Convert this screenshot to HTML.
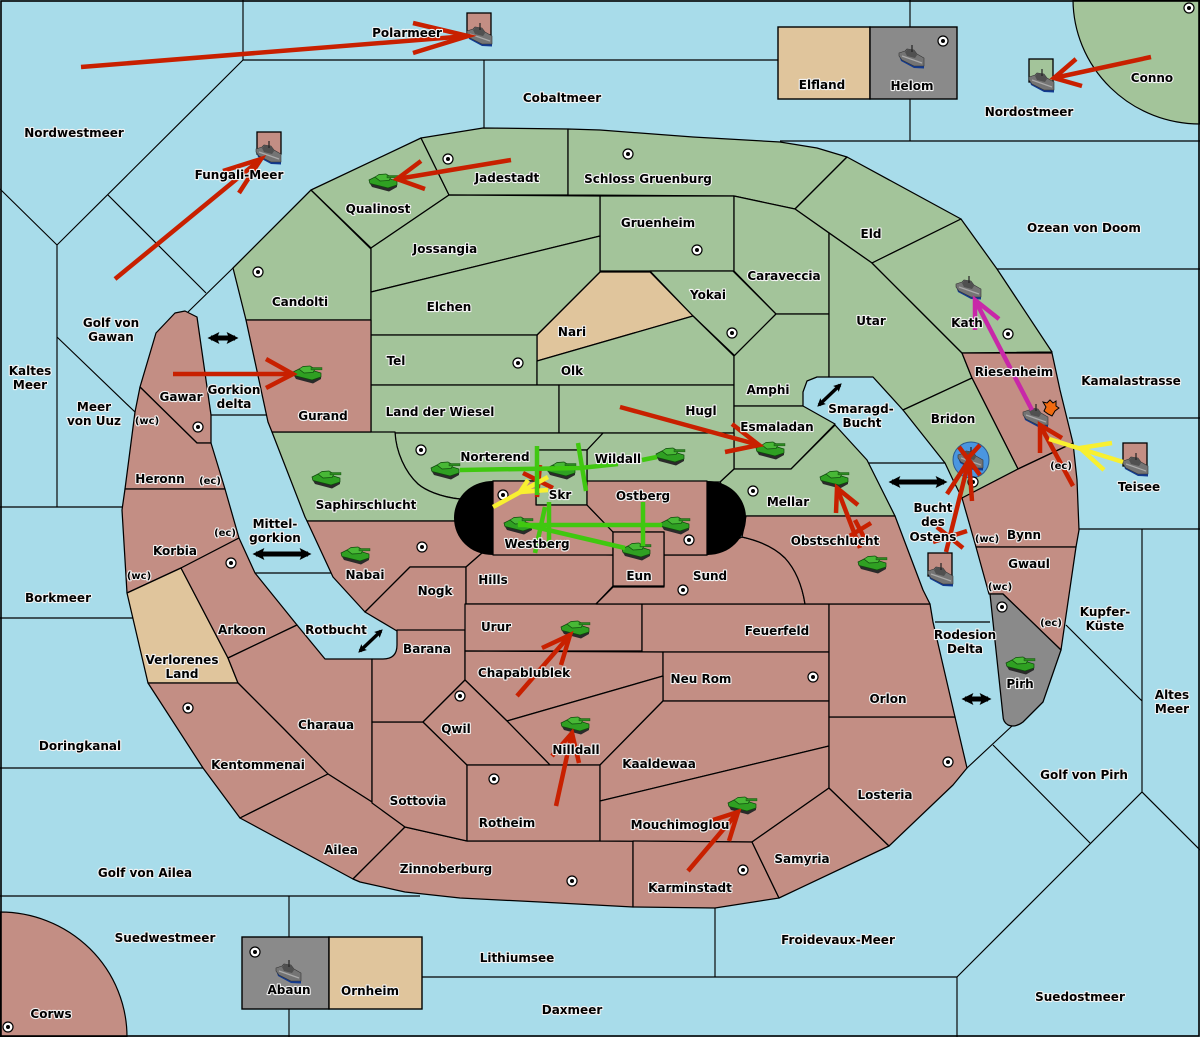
<!DOCTYPE html>
<html><head><meta charset="utf-8"><style>
html,body{margin:0;padding:0;background:#a8dcea}
svg{display:block}
.l polygon,.l path{stroke:#000;stroke-width:1.25;stroke-linejoin:round}
.g{fill:#a3c49a}.r{fill:#c38e84}.t{fill:#e0c59c}.y{fill:#8a8a8a}
.s{stroke:#000;stroke-width:1.15;fill:none}
.a line,.a polyline{stroke-width:4.5;fill:none}
text{font:bold 12px "DejaVu Sans",sans-serif;text-anchor:middle;fill:#000;stroke:#f2f2f2;stroke-width:2.2;paint-order:stroke;stroke-linejoin:round}
</style></head><body>
<svg xmlns="http://www.w3.org/2000/svg" width="1200" height="1037" viewBox="0 0 1200 1037">
<defs>
<symbol id="tank" viewBox="0 0 29 17" width="29" height="17" overflow="visible">
<polygon points="0,8 19,13 28,10 28,13 20,17.5 3,13" fill="#2a2a2a"/>
<polygon points="0,6 6,3 15,3 28,7 28,11 19,14 1,9.5" fill="#2fa022" stroke="#0f4a0c" stroke-width=".7"/>
<polygon points="6,3 10,0.5 17,0 22,3 20,6.5 11,7" fill="#48b836" stroke="#0f4a0c" stroke-width=".7"/>
<rect x="18" y="1.5" width="11" height="2.4" fill="#2c8a20" stroke="#0f4a0c" stroke-width=".4"/>
</symbol>
<symbol id="ship" viewBox="0 0 25 21" width="25" height="21" overflow="visible">
<polygon points="0,8 2,14 15,21 25,21.5 25,15 12,11" fill="#123a90"/>
<polygon points="0,6 6,4 8,2 15,3 18,7 25,11 25,19 15,19 3,13 0,9" fill="#747474" stroke="#333" stroke-width=".6"/>
<polygon points="6,5 9,2 15,3 18,8 16,11 8,9" fill="#505050"/>
<line x1="13" y1="-2" x2="13" y2="5" stroke="#222" stroke-width="1.2"/>
<line x1="3" y1="9" x2="23" y2="16" stroke="#aaa" stroke-width="1.2"/>
</symbol>
<symbol id="c" viewBox="-6 -6 12 12" width="12" height="12" overflow="visible">
<circle r="5" fill="#fff" stroke="#000" stroke-width="1.2"/><circle r="2" fill="#000"/>
</symbol>
<marker id="h" viewBox="0 0 10 10" refX="7" refY="5" markerWidth="2.4" markerHeight="3.2" orient="auto-start-reverse"><path d="M0,0L10,5L0,10L2,5Z" fill="#000"/></marker>
</defs>
<rect width="1200" height="1037" fill="#a8dcea"/>

<!-- sea lines -->
<g class="s">
<path d="M243,0V60H778M484,60V128M243,60L57,245L0,189M57,245V507M108,195L206,293M233,268L188,312M57,337L135,412M0,507H122M0,618H133M0,768H203M0,896H420M289,896V937M289,1009V1037M422,977H957M715,908V977M957,977V1037M957,977L1142,792L1200,850M1142,792V529M1090,843L993,745M1012,726L967,768M1142,701L1066,625M1078,529H1200M1069,418H1200M997,269H1200M780,141H1200M910,0V27M910,99V141M935,622H990M868,463H945M211,415H266M255,573H331"/>
</g>
<path d="M1073,0A127,125 0 0 0 1200,124V0Z" class="g" stroke="#000" stroke-width="1.2"/>
<path d="M0,912A127,125 0 0 1 127,1037H0Z" class="r" stroke="#000" stroke-width="1.2"/>

<g class="l">
<!-- greens -->
<polygon class="g" points="233,268 311,190 371,249 371,320 246,320"/>
<polygon class="g" points="311,190 421,138 449,195 371,248"/>
<polygon class="g" points="421,138 483,128 568,129 568,195 449,195"/>
<polygon class="g" points="568,129 600,130 693,137 780,142 817,148 847,157 795,209 734,196 568,195"/>
<polygon class="g" points="847,157 961,219 872,263 795,209"/>
<polygon class="g" points="600,196 734,196 734,271 600,271"/>
<polygon class="g" points="734,196 795,209 829,233 829,314 776,314 734,271"/>
<polygon class="g" points="650,271 733,271 776,314 735,356 693,316"/>
<polygon class="t" points="600,272 650,272 693,316 537,361 537,335"/>
<polygon class="g" points="371,248 449,195 600,196 600,236 371,292"/>
<polygon class="g" points="371,292 600,236 600,272 537,335 371,335"/>
<polygon class="g" points="371,335 537,335 537,385 371,385"/>
<polygon class="g" points="537,361 693,316 734,356 734,385 537,385"/>
<polygon class="g" points="371,385 559,385 559,433 371,433"/>
<polygon class="g" points="559,385 734,385 734,433 559,433"/>
<polygon class="g" points="734,356 776,314 829,314 829,377 817,377 807,381 803,392 803,406 734,406"/>
<polygon class="g" points="734,406 803,406 835,424 791,469 734,469"/>
<polygon class="g" points="829,233 872,263 917,308 962,353 972,378 903,410 873,377 829,377"/>
<polygon class="g" points="872,263 961,219 997,269 1052,352 962,353 917,308"/>
<polygon class="r" points="962,353 1052,353 1060,390 1073,443 1018,469 972,378"/>
<polygon class="g" points="972,378 1018,469 962,498 953,480 945,463 903,410"/>
<polygon class="g" points="734,469 791,469 835,425 867,460 877,480 895,516 740,516 720,482"/>
<polygon class="g" points="603,433 734,433 734,469 720,482 587,481 587,450"/>
<path class="g" d="M395,433H603L587,450H536V481H493L460,499C440,497 425,490 418,484C405,472 396,452 395,433Z"/>
<path class="g" d="M272,432H395C396,452 405,472 418,484C425,490 440,497 460,499L470,521H307L305,517Z"/>
<polygon class="g" points="536,450 587,450 587,505 536,505"/>
<!-- reds -->
<polygon class="r" points="246,320 371,320 371,432 272,432 268,422"/>
<polygon class="r" points="140,387 156,333 175,313 185,311 197,317 211,415 211,443 197,443"/>
<polygon class="r" points="140,387 197,443 211,443 225,489 125,489 135,412"/>
<polygon class="r" points="125,489 225,489 239,538 181,568 127,593 122,510"/>
<polygon class="t" points="127,593 181,568 228,658 238,683 148,683"/>
<polygon class="r" points="181,568 239,538 255,573 297,625 228,658"/>
<polygon class="r" points="228,658 297,625 325,659 372,659 372,802 328,774 283,728 238,683"/>
<polygon class="r" points="148,683 238,683 283,728 328,774 240,818 203,768"/>
<polygon class="r" points="240,818 328,774 372,802 405,827 353,879"/>
<polygon class="r" points="405,827 467,841 633,841 633,907 540,902 460,898 405,892 360,882 353,879"/>
<polygon class="r" points="372,722 423,722 467,765 467,841 405,827 372,803"/>
<polygon class="r" points="307,521 470,521 482,553 466,567 410,567 365,612 333,577"/>
<polygon class="r" points="410,567 466,567 466,630 397,631 365,612"/>
<path class="r" d="M397,630H465V680L423,722H372V659H383Q397,659 397,645Z"/>
<polygon class="r" points="466,567 482,553 613,555 613,586 596,604 466,604"/>
<polygon class="r" points="465,604 642,604 642,651 465,651"/>
<polygon class="r" points="642,604 829,604 829,652 642,652"/>
<polygon class="r" points="465,651 663,652 663,676 507,721 465,680"/>
<polygon class="r" points="663,652 829,652 829,701 663,701"/>
<polygon class="r" points="507,721 663,676 663,701 600,765 550,765"/>
<polygon class="r" points="465,680 507,721 550,765 467,765 423,722"/>
<polygon class="r" points="467,765 600,765 600,841 467,841"/>
<polygon class="r" points="663,701 829,701 829,746 600,801 600,765"/>
<polygon class="r" points="600,801 829,746 829,788 752,842 600,841"/>
<polygon class="r" points="633,841 752,842 779,898 715,908 633,907"/>
<polygon class="r" points="829,788 889,846 779,898 752,842"/>
<polygon class="r" points="829,717 955,717 967,768 953,785 889,846 829,788"/>
<polygon class="r" points="829,604 930,604 933,622 955,717 829,717"/>
<path class="r" d="M664,555H707L742,537C760,541 775,548 785,558C796,570 802,585 805,604H596L613,587H664Z"/>
<path class="r" d="M746,516H895L923,590L930,604H805C802,585 796,570 785,558C775,548 760,541 742,537Z"/>
<polygon class="r" points="493,481 536,481 536,505 587,505 613,532 613,555 493,555"/>
<polygon class="r" points="587,481 707,481 707,555 664,555 664,532 613,532 587,505"/>
<polygon class="r" points="613,532 664,532 664,586 613,586"/>
<polygon class="r" points="962,498 1018,469 1073,443 1077,480 1079,530 1076,547 976,547"/>
<polygon class="r" points="976,547 1076,547 1061,650 1003,594 989,594"/>
<path class="y" d="M990,594H1003L1061,650L1043,702L1023,722Q1015,728 1008,725Q1003,722 1003,716Z"/>
<!-- boxes -->
<rect x="778" y="27" width="92" height="72" class="t" stroke="#000" stroke-width="1.4"/>
<rect x="870" y="27" width="87" height="72" class="y" stroke="#000" stroke-width="1.4"/>
<rect x="242" y="937" width="87" height="72" class="y" stroke="#000" stroke-width="1.4"/>
<rect x="329" y="937" width="93" height="72" class="t" stroke="#000" stroke-width="1.4"/>
</g>
<path d="M493,481V555C470,555 454,538 454,518C454,498 470,481 493,481Z" fill="#000"/>
<path d="M707,481V555C730,555 746,538 746,518C746,498 730,481 707,481Z" fill="#000"/>
<rect x="1" y="1" width="1198" height="1035" fill="none" stroke="#000" stroke-width="1.6"/>

<!-- unit boxes -->
<g stroke="#000" stroke-width="1.3">
<rect x="467" y="13" width="24" height="22" class="r"/>
<rect x="257" y="132" width="24" height="22" class="r"/>
<rect x="1029" y="59" width="24" height="23" class="g"/>
<rect x="1123" y="443" width="24" height="23" class="r"/>
<rect x="928" y="553" width="24" height="23" class="r"/>
</g>
<circle cx="971" cy="460" r="18" fill="#4a96e0" stroke="#2a5a90"/>

<!-- centres -->
<g>
<use href="#c" x="252" y="266"/><use href="#c" x="442" y="153"/><use href="#c" x="622" y="148"/><use href="#c" x="691" y="244"/><use href="#c" x="726" y="327"/><use href="#c" x="512" y="357"/><use href="#c" x="1002" y="328"/><use href="#c" x="415" y="444"/><use href="#c" x="497" y="489"/><use href="#c" x="747" y="485"/><use href="#c" x="683" y="534"/><use href="#c" x="416" y="541"/><use href="#c" x="677" y="584"/><use href="#c" x="192" y="421"/><use href="#c" x="225" y="557"/><use href="#c" x="182" y="702"/><use href="#c" x="454" y="690"/><use href="#c" x="488" y="773"/><use href="#c" x="566" y="875"/><use href="#c" x="807" y="671"/><use href="#c" x="942" y="756"/><use href="#c" x="737" y="864"/><use href="#c" x="967" y="476"/><use href="#c" x="996" y="601"/><use href="#c" x="937" y="35"/><use href="#c" x="1183" y="2"/><use href="#c" x="249" y="946"/><use href="#c" x="2" y="1021"/>
</g>

<!-- tanks -->
<g>
<use href="#tank" x="369" y="174"/><use href="#tank" x="293" y="366"/><use href="#tank" x="312" y="471"/><use href="#tank" x="341" y="547"/><use href="#tank" x="431" y="462"/><use href="#tank" x="547" y="462"/><use href="#tank" x="656" y="448"/><use href="#tank" x="756" y="442"/><use href="#tank" x="504" y="517"/><use href="#tank" x="661" y="517"/><use href="#tank" x="622" y="543"/><use href="#tank" x="820" y="471"/><use href="#tank" x="858" y="556"/><use href="#tank" x="561" y="621"/><use href="#tank" x="561" y="717"/><use href="#tank" x="728" y="797"/><use href="#tank" x="1006" y="657"/>
</g>
<!-- ships -->
<g>
<use href="#ship" x="467" y="25"/><use href="#ship" x="256" y="143"/><use href="#ship" x="1029" y="71"/><use href="#ship" x="899" y="47"/><use href="#ship" x="276" y="962"/><use href="#ship" x="956" y="278"/><use href="#ship" x="1023" y="406"/><use href="#ship" x="958" y="449"/><use href="#ship" x="1123" y="455"/><use href="#ship" x="928" y="565"/>
</g>
<polygon points="1050,400 1053,403 1056,401 1056,406 1059,408 1055,411 1052,416 1048,414 1044,411 1046,407 1043,402 1047,403" fill="#f06a10" stroke="#000" stroke-width="1"/>

<!-- red moves -->
<g class="a" stroke="#c82000">
<line x1="81" y1="67" x2="468" y2="36" stroke="#c82000"/><polyline points="413,23 468,36 413,53" stroke="#c82000"/>
<line x1="115" y1="279" x2="261" y2="159" stroke="#c82000"/><polyline points="223,171 261,159 239,193" stroke="#c82000"/>
<line x1="511" y1="160" x2="397" y2="179" stroke="#c82000"/><polyline points="421,161 397,179 425,189" stroke="#c82000"/>
<line x1="173" y1="374" x2="293" y2="374" stroke="#c82000"/><polyline points="266,359 293,374 266,388" stroke="#c82000"/>
<line x1="1151" y1="57" x2="1054" y2="78" stroke="#c82000"/><polyline points="1076,59 1054,78 1082,86" stroke="#c82000"/>
<line x1="620" y1="407" x2="759" y2="445" stroke="#c82000"/><polyline points="732,424 759,445 725,452" stroke="#c82000"/>
<line x1="523" y1="473" x2="553" y2="488" stroke="#c82000"/><line x1="537" y1="497" x2="540" y2="465" stroke="#c82000"/>
<line x1="1073" y1="486" x2="1040" y2="425" stroke="#c82000"/><polyline points="1040,453 1040,425 1062,438" stroke="#c82000"/>
<line x1="946" y1="552" x2="969" y2="460" stroke="#c82000"/><polyline points="947,494 969,460 972,501" stroke="#c82000"/>
<line x1="959" y1="447" x2="980" y2="475" stroke="#c82000"/><line x1="980" y1="445" x2="968" y2="458" stroke="#c82000"/>
<line x1="937" y1="527" x2="963" y2="548" stroke="#c82000"/><line x1="967" y1="531" x2="933" y2="542" stroke="#c82000"/>
<line x1="837" y1="488" x2="860" y2="548" stroke="#c82000"/><polyline points="836,513 837,488 858,505" stroke="#c82000"/>
<line x1="848" y1="537" x2="871" y2="523" stroke="#c82000"/><line x1="855" y1="520" x2="868" y2="545" stroke="#c82000"/>
<line x1="517" y1="696" x2="570" y2="635" stroke="#c82000"/><polyline points="542,648 570,635 561,665" stroke="#c82000"/>
<line x1="556" y1="806" x2="572" y2="733" stroke="#c82000"/><polyline points="552,756 572,733 579,763" stroke="#c82000"/>
<line x1="688" y1="871" x2="738" y2="812" stroke="#c82000"/><polyline points="713,820 738,812 729,841" stroke="#c82000"/>
</g>
<!-- yellow / magenta / green moves -->
<g class="a">
<line x1="493" y1="507" x2="548" y2="477" stroke="#f8f030"/><polyline points="528,480 520,492 548,490" stroke="#f8f030"/>
<line x1="1123" y1="462" x2="1049" y2="439" stroke="#f8f030"/><polyline points="1112,443 1080,448 1104,470" stroke="#f8f030"/>
<line x1="1032" y1="410" x2="975" y2="300" stroke="#c828a8"/><polyline points="999,319 975,300 975,330" stroke="#c828a8"/>
<polyline points="460,470 580,468 618,464" stroke="#40c810"/><line x1="642" y1="460" x2="657" y2="457" stroke="#40c810"/>
<line x1="537" y1="446" x2="537" y2="495" stroke="#40c810"/><line x1="578" y1="443" x2="586" y2="491" stroke="#40c810"/>
<line x1="518" y1="525" x2="662" y2="525" stroke="#40c810"/><line x1="518" y1="523" x2="625" y2="548" stroke="#40c810"/>
<line x1="643" y1="502" x2="643" y2="546" stroke="#40c810"/><line x1="549" y1="502" x2="549" y2="548" stroke="#40c810"/>
<line x1="545" y1="507" x2="535" y2="553" stroke="#40c810"/>
</g>
<!-- black double arrows -->
<g stroke="#000" fill="none">
<line x1="211" y1="338" x2="235" y2="338" stroke-width="5" marker-start="url(#h)" marker-end="url(#h)"/>
<line x1="256" y1="554" x2="308" y2="554" stroke-width="5" marker-start="url(#h)" marker-end="url(#h)"/>
<line x1="892" y1="482" x2="944" y2="482" stroke-width="5" marker-start="url(#h)" marker-end="url(#h)"/>
<line x1="965" y1="699" x2="988" y2="699" stroke-width="5" marker-start="url(#h)" marker-end="url(#h)"/>
<line x1="360" y1="651" x2="381" y2="631" stroke-width="3.4" marker-start="url(#h)" marker-end="url(#h)"/>
<line x1="819" y1="405" x2="840" y2="385" stroke-width="3.4" marker-start="url(#h)" marker-end="url(#h)"/>
</g>

<!-- labels -->
<g>
<text x="407" y="37">Polarmeer</text><text x="822" y="89">Elfland</text><text x="912" y="90">Helom</text><text x="562" y="102">Cobaltmeer</text><text x="1152" y="82">Conno</text><text x="1029" y="116">Nordostmeer</text><text x="74" y="137">Nordwestmeer</text><text x="239" y="179">Fungali-Meer</text><text x="507" y="182">Jadestadt</text><text x="648" y="183">Schloss Gruenburg</text><text x="378" y="213">Qualinost</text><text x="658" y="227">Gruenheim</text><text x="871" y="238">Eld</text><text x="1084" y="232">Ozean von Doom</text><text x="445" y="253">Jossangia</text><text x="784" y="280">Caraveccia</text><text x="708" y="299">Yokai</text><text x="300" y="306">Candolti</text><text x="449" y="311">Elchen</text>
<text x="111" y="327">Golf von</text><text x="111" y="341">Gawan</text><text x="871" y="325">Utar</text><text x="967" y="327">Kath</text><text x="572" y="336">Nari</text><text x="396" y="365">Tel</text><text x="572" y="375">Olk</text><text x="1014" y="376">Riesenheim</text><text x="1131" y="385">Kamalastrasse</text><text x="30" y="375">Kaltes</text><text x="30" y="389">Meer</text><text x="768" y="394">Amphi</text><text x="323" y="420">Gurand</text><text x="181" y="401">Gawar</text><text x="234" y="394">Gorkion</text><text x="234" y="408">delta</text><text x="94" y="411">Meer</text><text x="94" y="425">von Uuz</text><text x="440" y="416">Land der Wiesel</text><text x="701" y="415">Hugl</text><text x="861" y="413">Smaragd-</text><text x="862" y="427">Bucht</text><text x="953" y="423">Bridon</text><text x="147" y="424" style="font-size:10px">(wc)</text><text x="777" y="431">Esmaladan</text>
<text x="495" y="461">Norterend</text><text x="618" y="463">Wildall</text><text x="160" y="483">Heronn</text><text x="210" y="484" style="font-size:10px">(ec)</text><text x="1139" y="491">Teisee</text><text x="1061" y="469" style="font-size:10px">(ec)</text><text x="560" y="499">Skr</text><text x="643" y="500">Ostberg</text><text x="788" y="506">Mellar</text><text x="366" y="509">Saphirschlucht</text><text x="933" y="512">Bucht</text><text x="933" y="526">des</text><text x="933" y="541">Ostens</text><text x="1024" y="539">Bynn</text><text x="987" y="542" style="font-size:10px">(wc)</text><text x="225" y="536" style="font-size:10px">(ec)</text><text x="275" y="528">Mittel-</text><text x="275" y="542">gorkion</text><text x="835" y="545">Obstschlucht</text><text x="537" y="548">Westberg</text><text x="175" y="555">Korbia</text><text x="1029" y="568">Gwaul</text><text x="365" y="579">Nabai</text><text x="139" y="579" style="font-size:10px">(wc)</text><text x="639" y="580">Eun</text><text x="710" y="580">Sund</text><text x="493" y="584">Hills</text><text x="1000" y="590" style="font-size:10px">(wc)</text><text x="435" y="595">Nogk</text><text x="58" y="602">Borkmeer</text>
<text x="1105" y="616">Kupfer-</text><text x="1105" y="630">Küste</text><text x="336" y="634">Rotbucht</text><text x="1051" y="626" style="font-size:10px">(ec)</text><text x="496" y="631">Urur</text><text x="777" y="635">Feuerfeld</text><text x="242" y="634">Arkoon</text><text x="965" y="639">Rodesion</text><text x="965" y="653">Delta</text><text x="427" y="653">Barana</text><text x="182" y="664">Verlorenes</text><text x="182" y="678">Land</text><text x="524" y="677">Chapablublek</text><text x="701" y="683">Neu Rom</text><text x="1020" y="688">Pirh</text><text x="1172" y="699">Altes</text><text x="1172" y="713">Meer</text><text x="888" y="703">Orlon</text><text x="326" y="729">Charaua</text><text x="456" y="733">Qwil</text><text x="80" y="750">Doringkanal</text><text x="576" y="754">Nilldall</text><text x="659" y="768">Kaaldewaa</text><text x="258" y="769">Kentommenai</text><text x="1084" y="779">Golf von Pirh</text><text x="885" y="799">Losteria</text><text x="418" y="805">Sottovia</text><text x="507" y="827">Rotheim</text><text x="680" y="829">Mouchimoglou</text><text x="341" y="854">Ailea</text><text x="802" y="863">Samyria</text><text x="446" y="873">Zinnoberburg</text><text x="145" y="877">Golf von Ailea</text><text x="690" y="892">Karminstadt</text><text x="165" y="942">Suedwestmeer</text><text x="838" y="944">Froidevaux-Meer</text><text x="517" y="962">Lithiumsee</text><text x="370" y="995">Ornheim</text><text x="289" y="994">Abaun</text><text x="572" y="1014">Daxmeer</text><text x="1080" y="1001">Suedostmeer</text><text x="51" y="1018">Corws</text>
</g>
</svg>
</body></html>
